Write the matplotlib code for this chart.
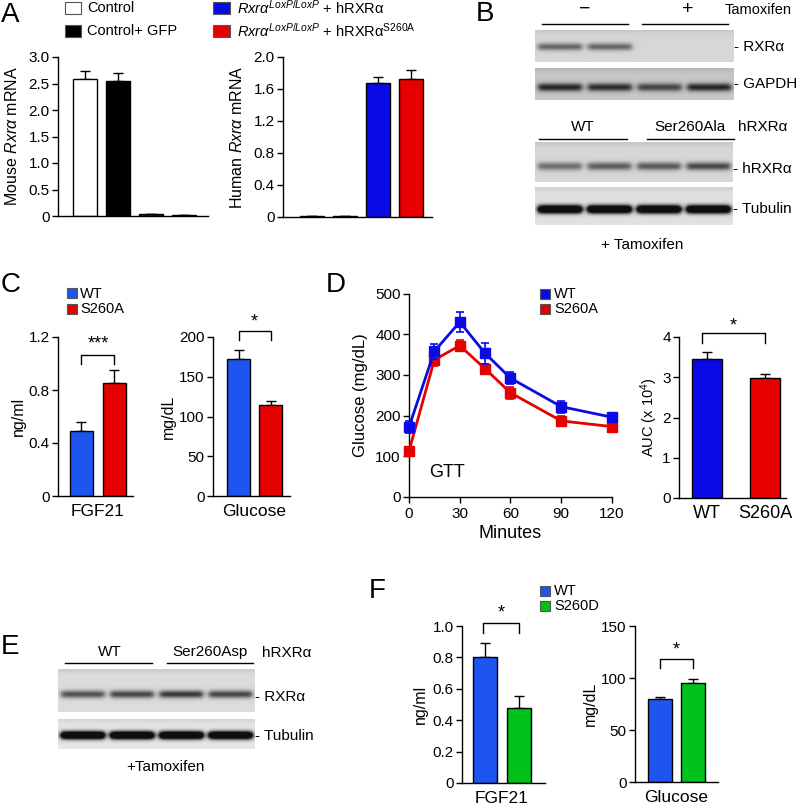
import numpy as np
import matplotlib
matplotlib.use('Agg')
import matplotlib.pyplot as plt
import matplotlib.transforms as mtransforms
from matplotlib import rcParams
from matplotlib.patches import Rectangle

rcParams['font.family'] = 'Liberation Sans'
rcParams['mathtext.fontset'] = 'custom'
rcParams['mathtext.rm'] = 'Liberation Sans'
rcParams['mathtext.it'] = 'Liberation Sans:italic'
rcParams['axes.linewidth'] = 1.0
rcParams['xtick.major.width'] = 1.0
rcParams['ytick.major.width'] = 1.0

# ---- data ----
# A: qPCR, mouse and human Rxra mRNA
mouse_rxra = [2.58, 2.54, 0.03, 0.025]
mouse_rxra_err = [0.16, 0.15, 0.0, 0.0]
human_rxra = [0.01, 0.01, 1.68, 1.725]
human_rxra_err = [0.0, 0.0, 0.07, 0.11]

# C: serum FGF21 and glucose, WT vs S260A
c_fgf21 = [0.49, 0.856]
c_fgf21_err = [0.072, 0.098]
c_glucose = [172, 114]
c_glucose_err = [12, 5]

# D: glucose tolerance test
gtt_minutes = [0, 15, 30, 45, 60, 90, 120]
gtt_wt = [172, 358, 430, 353, 292, 222, 196]
gtt_wt_err = [15, 18, 25, 25, 15, 15, 7]
gtt_s260a = [113, 337, 372, 315, 256, 187, 173]
gtt_s260a_err = [8, 15, 14, 12, 15, 13, 6]
auc = [3.45, 2.97]
auc_err = [0.17, 0.12]

# F: serum FGF21 and glucose, WT vs S260D
f_fgf21 = [0.80, 0.48]
f_fgf21_err = [0.09, 0.075]
f_glucose = [80, 95]
f_glucose_err = [1.5, 4.5]

# western blots: band strength per lane
b_rxra = [0.45, 0.45, 0.0, 0.0]
b_gapdh = [0.65, 0.62, 0.52, 0.65]
b_hrxra = [0.42, 0.48, 0.5, 0.57]
b_tubulin = [1.5, 1.5, 1.5, 1.5]
e_rxra = [0.55, 0.6, 0.65, 0.6]
e_tubulin = [1.6, 1.6, 1.6, 1.6]

BLUE = '#0a0ae6'
BLUE2 = '#1e55f0'
RED = '#e60000'
GREEN = '#00c21a'

W, H = 800, 806
fig = plt.figure(figsize=(W / 100, H / 100), dpi=100)


def axpx(x0, y0, x1, y1):
    return fig.add_axes([x0 / W, 1 - y1 / H, (x1 - x0) / W, (y1 - y0) / H])


def ftext(x, y, s, **kw):
    kw.setdefault('ha', 'left')
    kw.setdefault('va', 'center')
    kw.setdefault('fontsize', 10.5)
    fig.text(x / W, 1 - y / H, s, **kw)


def fsquare(x, y, color, w=11, h=11):
    fig.patches.append(Rectangle((x / W, 1 - (y + h) / H), w / W, h / H,
                                 transform=fig.transFigure, facecolor=color,
                                 edgecolor='#555555', lw=0.8))


def style(ax, xpx_label, label, size=11):
    ax.spines['top'].set_visible(False)
    ax.spines['right'].set_visible(False)
    ax.tick_params(axis='y', direction='out', length=4, labelsize=11, pad=2)
    ax.tick_params(axis='x', direction='out', length=0, labelsize=12.5, pad=6)
    tr = mtransforms.blended_transform_factory(fig.transFigure, ax.transAxes)
    ax.set_ylabel(label, fontsize=size, va='center')
    ax.yaxis.set_label_coords(xpx_label / W, 0.5, transform=tr)


def bars(ax, vals, errs, colors, xlim, width=0.72):
    x = np.arange(len(vals))
    ax.bar(x, vals, width=width, color=colors, edgecolor='black', lw=1, zorder=2)
    ax.errorbar(x, vals, yerr=[np.zeros(len(vals)), errs], fmt='none',
                ecolor='black', elinewidth=1, capsize=3.5, capthick=1, zorder=1)
    ax.set_xlim(*xlim)
    return x


def bracket(ax, x0, x1, ylo, yhi, ystar, star):
    ax.plot([x0, x0, x1, x1], [ylo, yhi, yhi, ylo], color='black', lw=1,
            clip_on=False)
    ax.text((x0 + x1) / 2, ystar, star, ha='center', va='center', fontsize=13,
            clip_on=False)


# ---------------- A ----------------
ftext(1, 15, 'A', fontsize=20)
fsquare(65, 2, 'white', w=16, h=12)
ftext(87, 8, 'Control')
fsquare(65, 25, 'black', w=16, h=12)
ftext(87, 31, 'Control+ GFP')
fsquare(213, 2, BLUE, w=17, h=12)
ftext(237, 8, r'$\mathit{Rxr\alpha}^{\mathit{LoxP/LoxP}}$ + hRXRα')
fsquare(213, 25, RED, w=17, h=12)
ftext(237, 31, r'$\mathit{Rxr\alpha}^{\mathit{LoxP/LoxP}}$ + hRXRα$^{\mathrm{S260A}}$')

a_colors = ['white', 'black', BLUE, RED]
ax = axpx(58, 57, 208, 216)
bars(ax, mouse_rxra, mouse_rxra_err, a_colors, (-0.82, 3.73))
ax.set_ylim(0, 3.0)
ax.set_yticks([0, 0.5, 1.0, 1.5, 2.0, 2.5, 3.0])
ax.set_yticklabels(['0', '0.5', '1.0', '1.5', '2.0', '2.5', '3.0'])
ax.set_xticks([])
style(ax, 12, r'Mouse $\mathit{Rxr\alpha}$ mRNA', size=11.5)

ax = axpx(283, 57, 432, 217)
bars(ax, human_rxra, human_rxra_err, a_colors, (-0.88, 3.64))
ax.set_ylim(0, 2.0)
ax.set_yticks([0, 0.4, 0.8, 1.2, 1.6, 2.0])
ax.set_yticklabels(['0', '0.4', '0.8', '1.2', '1.6', '2.0'])
ax.set_xticks([])
style(ax, 237, r'Human $\mathit{Rxr\alpha}$ mRNA', size=11.5)


# ---------------- blots ----------------
def blot(x0, y0, x1, y1, strength, band_y, bg, sig=3.5):
    ax = axpx(x0, y0, x1, y1)
    xs = np.arange(x0, x1, 0.5)
    ys = np.arange(y0, y1, 0.5)
    X, Y = np.meshgrid(xs, ys)
    n = len(strength)
    step = (x1 - x0) / n
    lanes = [x0 + step * (i + 0.5) for i in range(n)]
    half = step * 0.44
    img = np.full(X.shape, bg)
    # slightly darker upper edge like the scanned membrane
    img -= 0.06 * np.exp(-((Y - y0) / 4.0) ** 2)
    for c, s in zip(lanes, strength):
        prof = 0.5 * (np.tanh((X - (c - half)) / 3.0) - np.tanh((X - (c + half)) / 3.0))
        img -= s * prof * np.exp(-((Y - band_y) / sig) ** 2)
    img = np.clip(img, 0.06, 1)
    ax.imshow(img, cmap='gray', vmin=0, vmax=1, aspect='auto',
              extent=(x0, x1, y1, y0), interpolation='bilinear')
    ax.set_axis_off()
    return ax


def fline(x0, x1, y):
    fig.add_artist(plt.Line2D([x0 / W, x1 / W], [1 - y / H, 1 - y / H],
                              color='black', lw=1))


# B
ftext(476, 14, 'B', fontsize=20)
ftext(585, 9, '−', ha='center', fontsize=14)
ftext(688, 9, '+', ha='center', fontsize=14)
ftext(725, 10, 'Tamoxifen')
fline(542, 628, 24)
fline(642, 728, 24)
blot(535, 30, 734, 62, b_rxra, 47, 0.84)
blot(535, 68, 734, 100, b_gapdh, 87, 0.78, sig=4)
ftext(734, 47, '- RXRα', fontsize=11)
ftext(734, 84, '- GAPDH', fontsize=11)

ftext(583, 127, 'WT', ha='center', fontsize=11)
ftext(690, 127, 'Ser260Ala', ha='center', fontsize=11)
ftext(738, 127, 'hRXRα', fontsize=11)
fline(539, 627, 139)
fline(647, 734, 139)
blot(535, 142, 733, 182, b_hrxra, 166, 0.84, sig=4)
blot(535, 187, 733, 225, b_tubulin, 209, 0.88, sig=4)
ftext(733, 169, '- hRXRα', fontsize=11)
ftext(733, 209, '- Tubulin', fontsize=11)
ftext(642, 245, '+ Tamoxifen', ha='center', fontsize=11)

# ---------------- C ----------------
ftext(1, 285, 'C', fontsize=20)
fsquare(67, 288, BLUE2, w=10, h=10)
ftext(80, 294, 'WT')
fsquare(67, 304, RED, w=10, h=10)
ftext(80, 309, 'S260A')

ax = axpx(58, 337, 133, 496)
bars(ax, c_fgf21, c_fgf21_err, [BLUE2, RED], (-0.71, 1.56))
ax.set_ylim(0, 1.2)
ax.set_yticks([0, 0.4, 0.8, 1.2])
ax.set_yticklabels(['0', '0.4', '0.8', '1.2'])
ax.set_xticks([0.5])
ax.set_xticklabels(['FGF21'])
style(ax, 18, 'ng/ml', size=11.5)
bracket(ax, 0, 1, 1.0, 1.067, 1.15, '***')

ax = axpx(213, 337, 290, 496)
bars(ax, c_glucose, c_glucose_err, [BLUE2, RED], (-0.8, 1.61))
ax.set_ylim(0, 200)
ax.set_yticks([0, 50, 100, 150, 200])
ax.set_xticks([0.5])
ax.set_xticklabels(['Glucose'])
style(ax, 168, 'mg/dL', size=11.5)
bracket(ax, 0, 1, 196, 207.6, 219, '*')

# ---------------- D ----------------
ftext(326, 285, 'D', fontsize=20)
fsquare(540, 289, BLUE, w=10, h=10)
ftext(554, 294, 'WT')
fsquare(540, 304, RED, w=10, h=10)
ftext(554, 309, 'S260A')

ax = axpx(409, 293.5, 612, 497)
ax.errorbar(gtt_minutes, gtt_s260a, yerr=gtt_s260a_err, color=RED, lw=2,
            marker='s', ms=6.5, capsize=3, elinewidth=1.2, capthick=1.2,
            clip_on=False, zorder=3)
ax.errorbar(gtt_minutes, gtt_wt, yerr=gtt_wt_err, color=BLUE, lw=2,
            marker='s', ms=6.5, capsize=3, elinewidth=1.2, capthick=1.2,
            clip_on=False, zorder=4)
ax.set_xlim(0, 120)
ax.set_ylim(0, 500)
ax.set_xticks([0, 30, 60, 90, 120])
ax.set_yticks([0, 100, 200, 300, 400, 500])
style(ax, 360, 'Glucose (mg/dL)', size=12)
ax.tick_params(axis='x', length=4, labelsize=11, pad=3)
ax.set_xlabel('Minutes', fontsize=13, labelpad=3)
ax.text(12, 60, 'GTT', fontsize=13, ha='left', va='center')

ax = axpx(679, 337, 786, 498)
bars(ax, auc, auc_err, [BLUE, RED], (-0.48, 1.36), width=0.52)
ax.set_ylim(0, 4)
ax.set_yticks([0, 1, 2, 3, 4])
ax.set_xticks([0, 1])
ax.set_xticklabels(['WT', 'S260A'])
style(ax, 649, r'AUC (x 10$^4$)', size=10.5)
ax.tick_params(axis='x', labelsize=13, pad=5)
bracket(ax, -0.08, 1, 3.86, 4.10, 4.28, '*')

# ---------------- E ----------------
ftext(1, 647, 'E', fontsize=20)
ftext(110, 652, 'WT', ha='center', fontsize=11)
ftext(210, 652, 'Ser260Asp', ha='center', fontsize=11)
ftext(262, 653, 'hRXRα', fontsize=11)
fline(65, 152, 663)
fline(167, 253, 663)
blot(58, 669, 255, 712, e_rxra, 694, 0.86, sig=3.8)
blot(58, 719, 255, 749, e_tubulin, 735, 0.90, sig=3.8)
ftext(255, 697, '- RXRα', fontsize=11)
ftext(255, 736, '- Tubulin', fontsize=11)
ftext(165, 767, '+Tamoxifen', ha='center', fontsize=11)

# ---------------- F ----------------
ftext(369, 591, 'F', fontsize=20)
fsquare(540, 586, BLUE2, w=10, h=10)
ftext(554, 591, 'WT')
fsquare(540, 601, GREEN, w=10, h=10)
ftext(554, 606, 'S260D')

ax = axpx(462, 626, 545, 783)
bars(ax, f_fgf21, f_fgf21_err, [BLUE2, GREEN], (-0.69, 1.79))
ax.set_ylim(0, 1.0)
ax.set_yticks([0, 0.2, 0.4, 0.6, 0.8, 1.0])
ax.set_yticklabels(['0', '0.2', '0.4', '0.6', '0.8', '1.0'])
ax.set_xticks([0.5])
ax.set_xticklabels(['FGF21'])
style(ax, 420, 'ng/ml', size=11.5)
bracket(ax, -0.05, 1, 0.957, 1.017, 1.08, '*')

ax = axpx(635, 626, 718, 782)
bars(ax, f_glucose, f_glucose_err, [BLUE2, GREEN], (-0.76, 1.76))
ax.set_ylim(0, 150)
ax.set_yticks([0, 50, 100, 150])
ax.set_xticks([0.5])
ax.set_xticklabels(['Glucose'])
style(ax, 590, 'mg/dL', size=11.5)
bracket(ax, 0, 1, 109.6, 118.3, 127, '*')

fig.savefig('out.png', dpi=100)
